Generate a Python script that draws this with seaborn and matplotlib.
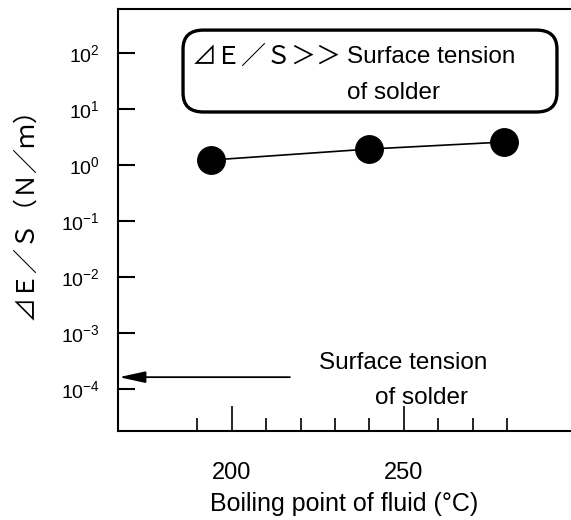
import matplotlib
matplotlib.use("Agg")
import matplotlib.pyplot as plt
import matplotlib.ticker as mticker
from matplotlib.patches import FancyBboxPatch
import seaborn as sns
import pandas as pd

# ---- data ----
boiling_point = [194, 240, 279]
delta_e_per_s = [1.24, 1.95, 2.6]
x_major_ticks = [200, 250]
x_minor_ticks = [190, 210, 220, 230, 240, 260, 270, 280]
y_ticks = [1e-4, 1e-3, 1e-2, 1e-1, 1e0, 1e1, 1e2]
solder_tension_level = 1.65e-4

sns.set_style("ticks", rc={"text.color": "black", "axes.labelcolor": "black",
                           "xtick.color": "black", "ytick.color": "black",
                           "axes.edgecolor": "black"})
plt.rcParams['font.family'] = ['Liberation Sans', 'Noto Sans CJK JP', 'DejaVu Sans']
plt.rcParams['axes.unicode_minus'] = False

fig = plt.figure(figsize=(5.71, 5.2), dpi=100)
ax = fig.add_axes([0.2067, 0.171, 0.7933, 0.8117])

df = pd.DataFrame({"bp": boiling_point, "v": delta_e_per_s})
sns.lineplot(data=df, x="bp", y="v", ax=ax, color="black", linewidth=1.2,
             marker="o", markersize=20, markeredgecolor="black",
             markerfacecolor="black")

ax.set_yscale("log")
ax.set_xlim(167, 298.5)
ax.set_ylim(10 ** -4.745, 10 ** 2.79)

ax.set_yticks(y_ticks)
ax.yaxis.set_minor_locator(mticker.NullLocator())
ax.xaxis.set_major_locator(mticker.FixedLocator(x_major_ticks))
ax.xaxis.set_minor_locator(mticker.FixedLocator(x_minor_ticks))

ax.tick_params(axis="x", which="both", bottom=True, top=False)
ax.tick_params(axis="y", which="both", left=True, right=False)
ax.tick_params(axis="x", which="major", direction="in", length=18, width=1.2,
               pad=22, labelsize=17, colors="black")
ax.tick_params(axis="x", which="minor", direction="in", length=9.5, width=1.2,
               colors="black")
ax.tick_params(axis="y", which="major", direction="in", length=12, width=1.5,
               pad=13, labelsize=14, colors="black")

for side in ["left", "bottom", "top"]:
    ax.spines[side].set_visible(True)
    ax.spines[side].set_linewidth(1.5)
    ax.spines[side].set_color("black")
ax.spines["right"].set_visible(False)

ax.set_xlabel("Boiling point of fluid (°C)", fontsize=18, labelpad=6,
              color="black")
ax.set_ylabel("")
fig.text(0.044, 0.600, "⊿Ｅ／Ｓ（Ｎ／ｍ）", rotation=90, ha="center", va="center",
         fontsize=18, color="black",
         family=['Noto Sans CJK JP', 'DejaVu Sans'])

# rounded box annotation
box = FancyBboxPatch((0.1435 + 0.045, 0.756 + 0.045), 0.8255 - 0.09, 0.194 - 0.09,
                     boxstyle="round,pad=0.045", transform=ax.transAxes,
                     facecolor="white", edgecolor="black", linewidth=2.4,
                     clip_on=False, zorder=3)
ax.add_patch(box)
ax.text(0.163, 0.886, "⊿Ｅ／Ｓ＞＞", transform=ax.transAxes, ha="left",
        va="center", fontsize=18, color="black",
        family=['Noto Sans CJK JP', 'DejaVu Sans'], zorder=4)
ax.text(0.506, 0.886, "Surface tension", transform=ax.transAxes, ha="left",
        va="center", fontsize=17.5, color="black", zorder=4)
ax.text(0.506, 0.801, "of solder", transform=ax.transAxes, ha="left",
        va="center", fontsize=17.5, color="black", zorder=4)

# lower annotation with arrow
ax.annotate("", xy=(167.3, solder_tension_level),
            xytext=(216.9, solder_tension_level),
            arrowprops=dict(arrowstyle="-|>,head_length=1.6,head_width=0.35",
                            color="black", lw=1.3, shrinkA=0, shrinkB=0))
ax.text(0.629, 0.161, "Surface tension", transform=ax.transAxes, ha="center",
        va="center", fontsize=17.5, color="black")
ax.text(0.669, 0.078, "of solder", transform=ax.transAxes, ha="center",
        va="center", fontsize=17.5, color="black")

fig.savefig("out.png", dpi=100)
